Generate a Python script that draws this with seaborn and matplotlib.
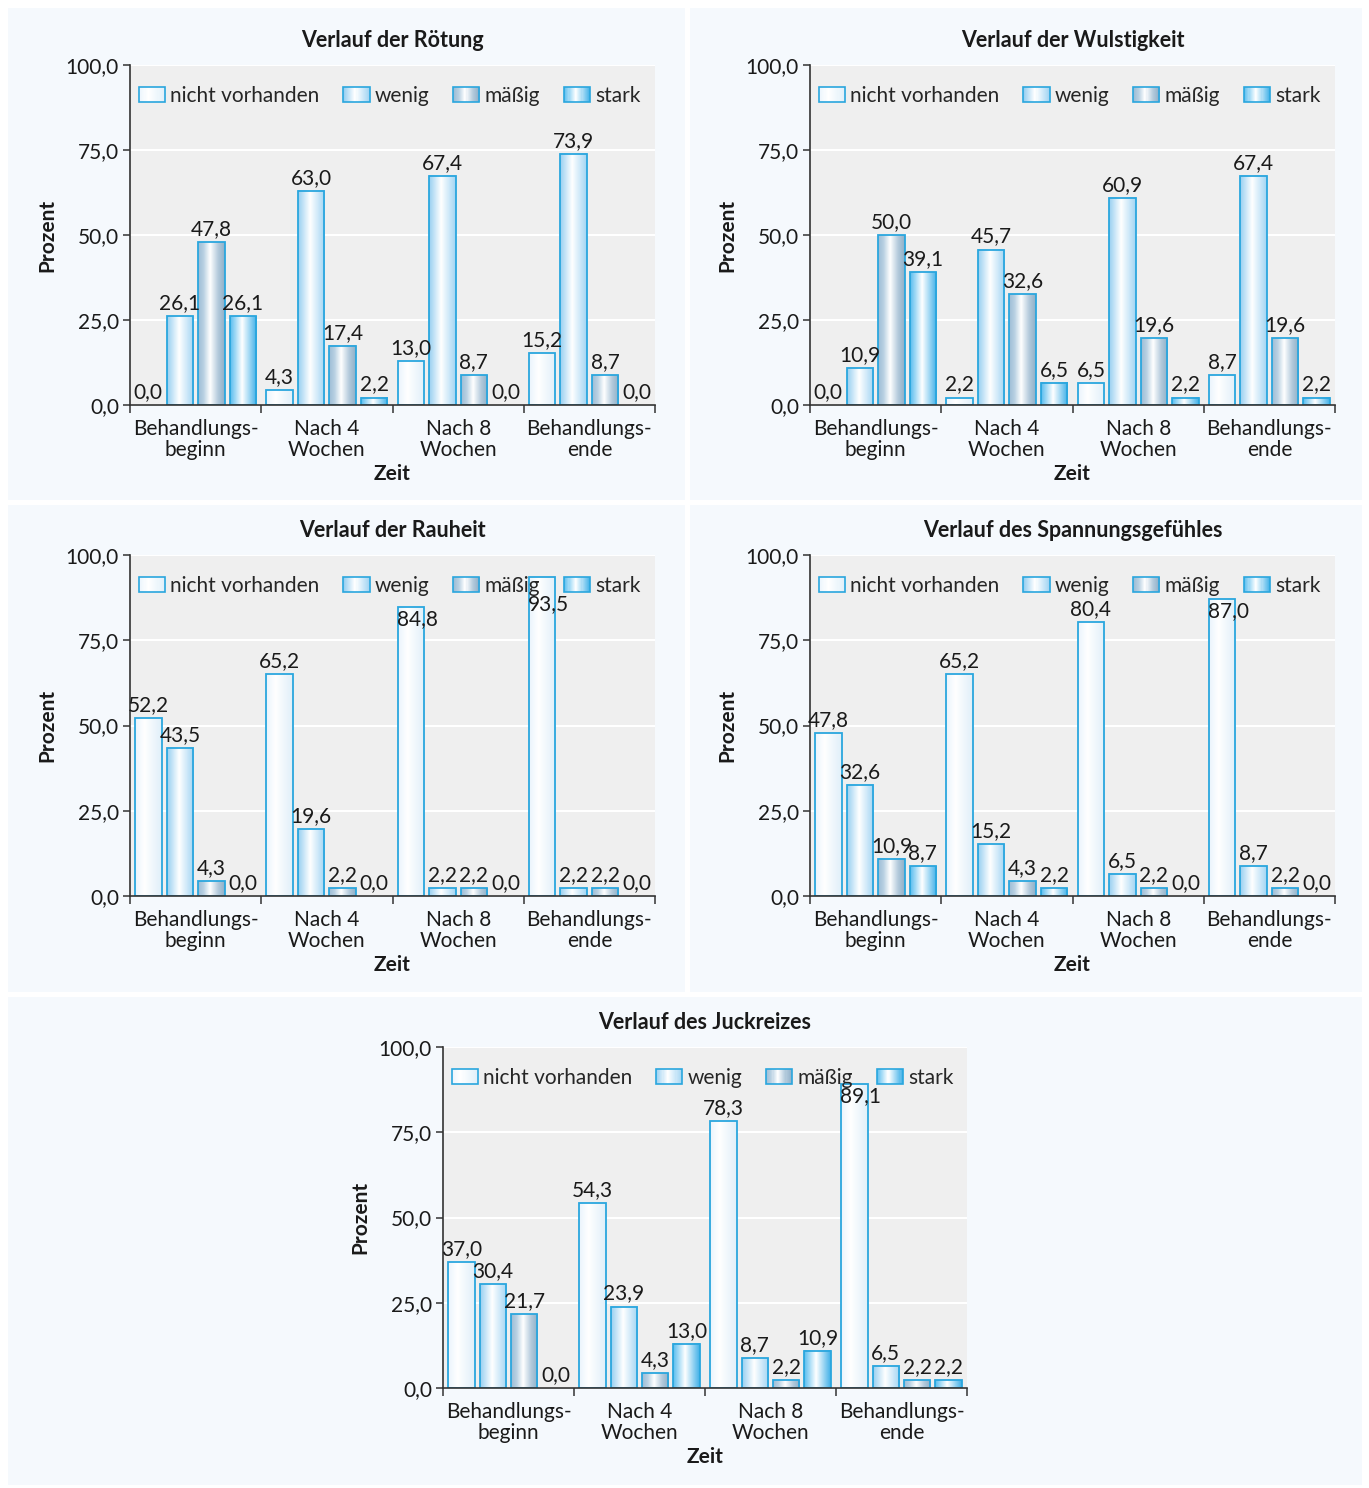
import numpy as np
import pandas as pd
import matplotlib
matplotlib.use("Agg")
import matplotlib.pyplot as plt
import seaborn as sns
from matplotlib.patches import Rectangle
from matplotlib.legend_handler import HandlerBase
from matplotlib.colors import LinearSegmentedColormap
from matplotlib.ticker import FixedLocator, FuncFormatter

# ---------------- data ----------------
categories = ["Behandlungs-\nbeginn", "Nach 4\nWochen", "Nach 8\nWochen", "Behandlungs-\nende"]
levels = ["nicht vorhanden", "wenig", "mäßig", "stark"]
titles = ["Verlauf der Rötung", "Verlauf der Wulstigkeit", "Verlauf der Rauheit",
          "Verlauf des Spannungsgefühles", "Verlauf des Juckreizes"]

roetung_nicht = [0.0, 4.3, 13.0, 15.2]
roetung_wenig = [26.1, 63.0, 67.4, 73.9]
roetung_maessig = [47.8, 17.4, 8.7, 8.7]
roetung_stark = [26.1, 2.2, 0.0, 0.0]

wulst_nicht = [0.0, 2.2, 6.5, 8.7]
wulst_wenig = [10.9, 45.7, 60.9, 67.4]
wulst_maessig = [50.0, 32.6, 19.6, 19.6]
wulst_stark = [39.1, 6.5, 2.2, 2.2]

rauheit_nicht = [52.2, 65.2, 84.8, 93.5]
rauheit_wenig = [43.5, 19.6, 2.2, 2.2]
rauheit_maessig = [4.3, 2.2, 2.2, 2.2]
rauheit_stark = [0.0, 0.0, 0.0, 0.0]

spannung_nicht = [47.8, 65.2, 80.4, 87.0]
spannung_wenig = [32.6, 15.2, 6.5, 8.7]
spannung_maessig = [10.9, 4.3, 2.2, 2.2]
spannung_stark = [8.7, 2.2, 0.0, 0.0]

juck_nicht = [37.0, 54.3, 78.3, 89.1]
juck_wenig = [30.4, 23.9, 8.7, 6.5]
juck_maessig = [21.7, 4.3, 2.2, 2.2]
juck_stark = [0.0, 13.0, 10.9, 2.2]

datasets = [
    [roetung_nicht, roetung_wenig, roetung_maessig, roetung_stark],
    [wulst_nicht, wulst_wenig, wulst_maessig, wulst_stark],
    [rauheit_nicht, rauheit_wenig, rauheit_maessig, rauheit_stark],
    [spannung_nicht, spannung_wenig, spannung_maessig, spannung_stark],
    [juck_nicht, juck_wenig, juck_maessig, juck_stark],
]

# ---------------- style ----------------
sns.set_theme(style="white")
plt.rcParams["font.family"] = ["Lato", "DejaVu Sans"]

FS = 15
TXT = "#1a1a1a"
EDGE = "#2aa6de"
grad_stops = {
    "nicht vorhanden": [(0.0, "#eaf4fc"), (0.35, "#ffffff"), (1.0, "#e0eff9")],
    "wenig": [(0.0, "#98cff1"), (0.45, "#ffffff"), (1.0, "#a3d5f3")],
    "mäßig": [(0.0, "#9dbdd6"), (0.2, "#b8d0e2"), (0.45, "#ffffff"),
              (0.75, "#b3cadc"), (1.0, "#8fafc8")],
    "stark": [(0.0, "#58bdef"), (0.45, "#ffffff"), (1.0, "#40b0e8")],
}
cmaps = {k: LinearSegmentedColormap.from_list(k, v) for k, v in grad_stops.items()}


class GradHandler(HandlerBase):
    def __init__(self, cmap):
        super().__init__()
        self.cmap = cmap

    def create_artists(self, legend, orig_handle, xdescent, ydescent, width, height, fontsize, trans):
        n = 24
        arts = []
        for i in range(n):
            r = Rectangle((-xdescent + i * width / n, -ydescent), width / n + 0.05, height,
                          facecolor=self.cmap((i + 0.5) / n), edgecolor="none", transform=trans)
            arts.append(r)
        arts.append(Rectangle((-xdescent, -ydescent), width, height, facecolor="none",
                              edgecolor=EDGE, linewidth=1.2, transform=trans))
        return arts


W, H = 1369, 1488
fig = plt.figure(figsize=(W / 100, H / 100), dpi=100)
fig.patch.set_facecolor("white")

# panel backgrounds (px: x0, y0, x1, y1)
panels = [(8, 8, 685, 500), (690, 8, 1362, 500), (8, 505, 685, 992),
          (690, 505, 1362, 992), (8, 997, 1362, 1485)]
for x0, y0, x1, y1 in panels:
    fig.patches.append(Rectangle((x0 / W, 1 - y1 / H), (x1 - x0) / W, (y1 - y0) / H,
                                 transform=fig.transFigure, facecolor="#f5f9fd",
                                 edgecolor="none", zorder=-10))

# axes rect px: left, top(100), right, bottom(0)
axes_px = [(130, 65, 655, 405), (810, 65, 1335, 405), (130, 555, 655, 896),
           (810, 555, 1335, 896), (443, 1047, 967, 1388)]

fmt = lambda v: f"{v:.1f}".replace(".", ",")

for (l, t, r, b), title, series in zip(axes_px, titles, datasets):
    ax = fig.add_axes([l / W, 1 - b / H, (r - l) / W, (b - t) / H])
    rows = []
    for lev, vals in zip(levels, series):
        for c, v in zip(categories, vals):
            rows.append({"Zeit": c, "Stufe": lev, "Prozent": v})
    df = pd.DataFrame(rows)
    sns.barplot(data=df, x="Zeit", y="Prozent", hue="Stufe", order=categories,
                hue_order=levels, width=0.96, gap=0.16, ax=ax, legend=False,
                edgecolor=EDGE, linewidth=1.3, saturation=1, color="white")
    ax.set_facecolor("#efefef")
    for lev, cont in zip(levels, ax.containers):
        grad = cmaps[lev](np.linspace(0, 1, 64))[np.newaxis, :, :]
        for p, v in zip(cont.patches, cont.datavalues):
            x0, w, h = p.get_x(), p.get_width(), p.get_height()
            if h > 0:
                ax.imshow(grad, extent=(x0, x0 + w, 0, h), aspect="auto",
                          interpolation="bilinear", zorder=1.5)
                p.set_facecolor("none")
                p.set_zorder(2)
            else:
                p.set_visible(False)
            if v >= 90:
                # very tall bar: label lowered onto the bar, clear of the legend
                ax.text(x0 + w / 2 + 0.05, h - 5.0, fmt(v), ha="center", va="top",
                        fontsize=FS, color=TXT, zorder=3)
            elif v >= 84:
                ax.text(x0 + w / 2 + 0.05, h - 0.6, fmt(v), ha="center", va="top",
                        fontsize=FS, color=TXT, zorder=3)
            else:
                ax.text(x0 + w / 2, h + 0.9, fmt(v), ha="center", va="bottom",
                        fontsize=FS, color=TXT, zorder=3)
    ax.set_xlim(-0.5, 3.5)
    ax.set_ylim(0, 100)
    ax.set_aspect("auto")

    ax.yaxis.set_major_locator(FixedLocator([0, 25, 50, 75, 100]))
    ax.yaxis.set_major_formatter(FuncFormatter(lambda v, p: fmt(v)))
    ax.grid(axis="y", color="white", linewidth=1.5)
    ax.set_axisbelow(True)
    for s in ["top", "right"]:
        ax.spines[s].set_visible(False)
    for s in ["left", "bottom"]:
        ax.spines[s].set_color("#333333")
        ax.spines[s].set_linewidth(1.2)
    ax.tick_params(axis="y", left=True, length=5, width=1.1, color="#333333",
                   labelsize=FS, labelcolor=TXT, pad=3)
    ax.tick_params(axis="x", which="major", length=0, labelsize=FS,
                   labelcolor=TXT, pad=10)
    ax.xaxis.set_minor_locator(FixedLocator([-0.5, 0.5, 1.5, 2.5, 3.5]))
    ax.tick_params(axis="x", which="minor", bottom=True, length=6, width=1.1, color="#333333")
    for lab in ax.get_xticklabels():
        lab.set_linespacing(1.05)
    ax.set_xlabel("Zeit", fontsize=FS, fontweight="bold", labelpad=3, color=TXT)
    ax.set_ylabel("Prozent", fontsize=FS, fontweight="bold", labelpad=6, color=TXT)
    ax.set_title(title, fontsize=15.5, fontweight="bold", pad=13, color=TXT)

    handles = [Rectangle((0, 0), 1, 1) for _ in levels]
    leg = ax.legend(handles, levels,
                    handler_map={h: GradHandler(cmaps[lev]) for h, lev in zip(handles, levels)},
                    loc="center", bbox_to_anchor=(0.495, 0.91), ncol=4, frameon=False,
                    fontsize=FS, handlelength=1.25, handleheight=0.75, handletextpad=0.25,
                    columnspacing=1.15, borderaxespad=0.0, borderpad=0.0)
    leg.set_zorder(5)

fig.savefig("out.png", dpi=100)
